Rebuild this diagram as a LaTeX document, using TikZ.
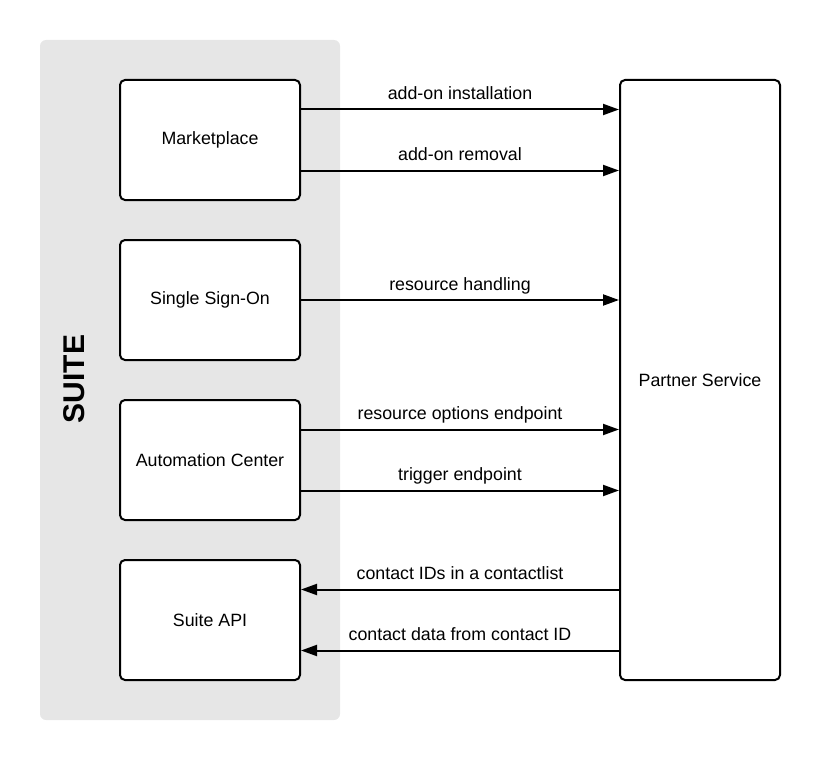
\documentclass[tikz,border=0pt]{standalone}
\usepackage{fontspec}
\setmainfont{Liberation Sans}
\usetikzlibrary{arrows.meta,calc}
\definecolor{panelgray}{HTML}{E6E6E6}
\begin{document}
\begin{tikzpicture}[x=1pt,y=-1pt,
  compbox/.style={draw=black,line width=2pt,rounded corners=5pt,fill=white,
    minimum width=180pt,minimum height=120pt,inner sep=0pt,font=\fontsize{17.8}{20}\selectfont},
  arr/.style={line width=2pt,-{Triangle[length=16pt,width=11pt]}},
  lbl/.style={midway,anchor=base,yshift=10pt,inner sep=0pt,font=\fontsize{17.8}{20}\selectfont}]
\useasboundingbox (0,0) rectangle (820,760);
\node[fill=panelgray,rounded corners=6pt,minimum width=300pt,minimum height=680pt,inner sep=0pt] (suite) at (190,380) {};
\node[rotate=90,font=\fontsize{30}{34}\bfseries\selectfont,inner sep=0pt] (suitelbl) at (74,379) {SUITE};
\node[compbox] (mp) at (210,140) {Marketplace};
\node[compbox] (sso) at (210,300) {Single Sign-On};
\node[compbox] (ac) at (210,460) {Automation Center};
\node[compbox] (api) at (210,620) {Suite API};
\node[compbox,minimum width=160pt,minimum height=600pt] (ps) at (700,380) {Partner Service};
\coordinate (a1) at ($(mp.north east)!0.25!(mp.south east)$);
\coordinate (a2) at ($(mp.north east)!0.75!(mp.south east)$);
\coordinate (a4) at ($(ac.north east)!0.25!(ac.south east)$);
\coordinate (a5) at ($(ac.north east)!0.75!(ac.south east)$);
\coordinate (a6) at ($(api.north east)!0.25!(api.south east)$);
\coordinate (a7) at ($(api.north east)!0.75!(api.south east)$);
\draw[arr] (a1) -- (ps.west |- a1) node[lbl] {add-on installation};
\draw[arr] (a2) -- (ps.west |- a2) node[lbl] {add-on removal};
\draw[arr] (sso.east) -- (ps.west |- sso.east) node[lbl] {resource handling};
\draw[arr] (a4) -- (ps.west |- a4) node[lbl] {resource options endpoint};
\draw[arr] (a5) -- (ps.west |- a5) node[lbl] {trigger endpoint};
\draw[arr] (ps.west |- a6) -- (a6) node[lbl] {contact IDs in a contactlist};
\draw[arr] (ps.west |- a7) -- (a7) node[lbl] {contact data from contact ID};
\end{tikzpicture}
\end{document}
